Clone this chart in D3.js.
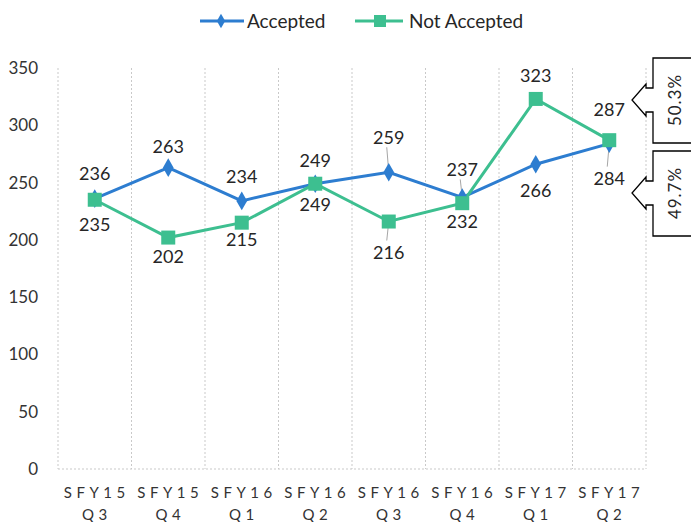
<!DOCTYPE html>
<html><head><meta charset="utf-8">
<script src="https://cdn.jsdelivr.net/npm/d3@7"></script>
<style>body{margin:0;background:#fff;} svg{display:block;}</style>
</head><body>
<svg id="c" width="691" height="522"></svg>
<script>
const categories = [["SFY15","Q3"],["SFY15","Q4"],["SFY16","Q1"],["SFY16","Q2"],["SFY16","Q3"],["SFY16","Q4"],["SFY17","Q1"],["SFY17","Q2"]];
const accepted = [236, 263, 234, 249, 259, 237, 266, 284];
const notAccepted = [235, 202, 215, 249, 216, 232, 323, 287];
const yTicks = [0, 50, 100, 150, 200, 250, 300, 350];
const shareLabels = ["50.3%", "49.7%"];
// label placement (layout only): vertical offset from point, leader line flag
const acceptedLabelDy = [-25, -21, -24, -23, -35, -28, 26, 35];
const notAcceptedLabelDy = [25, 19, 17, 21, 31, 19, -23, -30];
const acceptedLeader = [false,false,false,false,true,true,false,true];
const notAcceptedLeader = [false,false,false,false,true,false,false,false];

(function(){
const svg = d3.select("#c");
const pLeft = 58, pRight = 646, pTop = 68, pBottom = 469;
const x = d3.scaleBand().domain(d3.range(categories.length)).range([pLeft, pRight]);
const y = d3.scaleLinear().domain([0, 350]).range([pBottom, pTop]);
const cx = i => x(i) + x.bandwidth()/2;
const blue = "#2d7dd0", green = "#3dbf90";
const font = "Lato, 'Open Sans', sans-serif";

// vertical gridlines
const grid = svg.append("g");
d3.range(categories.length + 1).forEach(i => {
  const gx = pLeft + i * x.bandwidth();
  grid.append("line").attr("x1", gx).attr("x2", gx).attr("y1", pTop).attr("y2", pBottom)
    .attr("stroke", "#c9c9c9").attr("stroke-width", 1).attr("stroke-dasharray", "2,2");
});
grid.append("line").attr("x1", pLeft).attr("x2", pRight).attr("y1", pBottom).attr("y2", pBottom)
  .attr("stroke", "#c9c9c9").attr("stroke-width", 1).attr("stroke-dasharray", "2,2");

// y axis labels
const yAxis = d3.axisLeft(y).tickValues(yTicks).tickSize(0).tickPadding(0);
const ya = svg.append("g").attr("transform", "translate(38,0)").call(yAxis);
ya.select(".domain").remove();
ya.selectAll("text").attr("font-family", font).attr("font-size", 17).attr("fill", "#333").attr("dy", "0.32em");

// x axis labels
const xl = svg.append("g");
categories.forEach((c, i) => {
  const t = xl.append("text").attr("text-anchor", "middle")
    .attr("font-family", font).attr("font-size", 15).attr("fill", "#333")
    .attr("letter-spacing", "4.5px");
  t.append("tspan").attr("x", cx(i) + 2).attr("y", 498).text(c[0]);
  t.append("tspan").attr("x", cx(i) + 2).attr("y", 520).text(c[1]);
});

// lines
const line = d3.line().x((d, i) => cx(i)).y(d => y(d));
svg.append("path").datum(accepted).attr("d", line).attr("fill", "none").attr("stroke", blue).attr("stroke-width", 3);
svg.append("path").datum(notAccepted).attr("d", line).attr("fill", "none").attr("stroke", green).attr("stroke-width", 3);

// leader lines
function leaders(vals, dys, flags) {
  vals.forEach((v, i) => {
    if (!flags[i]) return;
    const py = y(v), dy = dys[i];
    const y1 = dy < 0 ? py + dy + 10 : py + dy - 12;
    svg.append("line").attr("x1", cx(i)).attr("x2", cx(i) - 2).attr("y1", py).attr("y2", y1)
      .attr("stroke", "#a6a6a6").attr("stroke-width", 1);
  });
}
leaders(accepted, acceptedLabelDy, acceptedLeader);
leaders(notAccepted, notAcceptedLabelDy, notAcceptedLeader);

// markers
svg.append("g").selectAll("path").data(accepted).join("path")
  .attr("d", d3.symbol(d3.symbolDiamond, 100)())
  .attr("transform", (d, i) => `translate(${cx(i)},${y(d)})`).attr("fill", blue);
svg.append("g").selectAll("rect").data(notAccepted).join("rect")
  .attr("x", (d, i) => cx(i) - 7).attr("y", d => y(d) - 7).attr("width", 14).attr("height", 14)
  .attr("fill", green);

// data labels
function labels(vals, dys) {
  svg.append("g").selectAll("text").data(vals).join("text")
    .attr("x", (d, i) => cx(i)).attr("y", (d, i) => y(d) + dys[i]).attr("dy", "0.35em")
    .attr("text-anchor", "middle").attr("font-family", font).attr("font-size", 18).attr("fill", "#262626")
    .text(d => d);
}
labels(accepted, acceptedLabelDy);
labels(notAccepted, notAcceptedLabelDy);

// legend
const lg = svg.append("g");
lg.append("line").attr("x1", 200).attr("x2", 244).attr("y1", 21).attr("y2", 21).attr("stroke", blue).attr("stroke-width", 3);
lg.append("path").attr("d", d3.symbol(d3.symbolDiamond, 60)()).attr("transform", "translate(221,21)").attr("fill", blue);
lg.append("text").attr("x", 247).attr("y", 21).attr("dy", "0.35em").attr("font-family", font).attr("font-size", 19).attr("fill", "#262626").text("Accepted");
lg.append("line").attr("x1", 355).attr("x2", 403).attr("y1", 21).attr("y2", 21).attr("stroke", green).attr("stroke-width", 3);
lg.append("rect").attr("x", 374).attr("y", 15).attr("width", 12).attr("height", 12).attr("fill", green);
lg.append("text").attr("x", 409).attr("y", 21).attr("dy", "0.35em").attr("font-family", font).attr("font-size", 19).attr("fill", "#262626").text("Not Accepted");

// callouts
function callout(yTop, yBot, tipY, label) {
  const bx = 653, nx = 646, tx = 632;
  const p = d3.path();
  p.moveTo(700, yTop); p.lineTo(bx, yTop); p.lineTo(bx, tipY - 12); p.lineTo(nx, tipY - 12);
  p.lineTo(nx, tipY - 16); p.lineTo(tx, tipY); p.lineTo(nx, tipY + 16); p.lineTo(nx, tipY + 12);
  p.lineTo(bx, tipY + 12); p.lineTo(bx, yBot); p.lineTo(700, yBot);
  svg.append("path").attr("d", p.toString()).attr("fill", "#fff").attr("stroke", "#000").attr("stroke-width", 1.3);
  svg.append("text").attr("transform", `translate(675,${tipY}) rotate(-90)`).attr("text-anchor", "middle")
    .attr("dy", "0.35em").attr("font-family", font).attr("font-size", 17).attr("letter-spacing", "1px").attr("fill", "#262626").text(label);
}
callout(58, 143, 100, shareLabels[0]);
callout(151, 236, 193, shareLabels[1]);
})();
</script>
</body></html>
